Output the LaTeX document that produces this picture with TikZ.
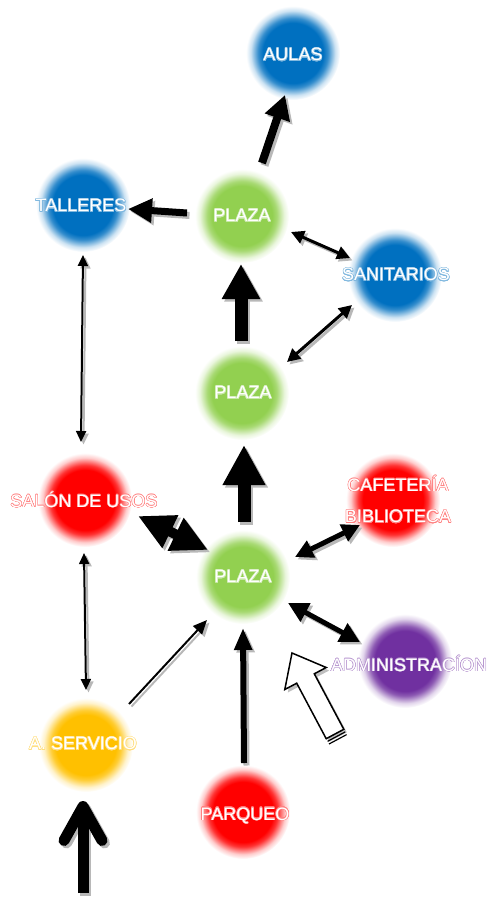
\documentclass[tikz,border=0pt]{standalone}
\usepackage{fontspec}
\setmainfont{Liberation Sans}
\usepackage[copies]{contour}
\usetikzlibrary{arrows.meta}
\definecolor{cblue}{HTML}{0070C0}
\definecolor{cgreen}{HTML}{92D050}
\definecolor{cred}{HTML}{FF0000}
\definecolor{cpurple}{HTML}{7030A0}
\definecolor{cyellow}{HTML}{FFC000}
\colorlet{cblueh}{cblue!80!white}\colorlet{cbluem}{cblue!50!white}\colorlet{cbluel}{cblue!20!white}
\colorlet{cgreenh}{cgreen!80!white}\colorlet{cgreenm}{cgreen!50!white}\colorlet{cgreenl}{cgreen!20!white}
\colorlet{credh}{cred!80!white}\colorlet{credm}{cred!50!white}\colorlet{credl}{cred!20!white}
\colorlet{cpurpleh}{cpurple!80!white}\colorlet{cpurplem}{cpurple!50!white}\colorlet{cpurplel}{cpurple!20!white}
\colorlet{cyellowh}{cyellow!80!white}\colorlet{cyellowm}{cyellow!50!white}\colorlet{cyellowl}{cyellow!20!white}
\newcommand\mkball[1]{\pgfdeclareradialshading{ball#1}{\pgfpoint{0bp}{0bp}}{color(0bp)=(c#1); color(16bp)=(c#1); color(18.5bp)=(c#1h); color(20.5bp)=(c#1m); color(22.5bp)=(c#1l); color(25bp)=(white); color(50bp)=(white)}}
\mkball{blue}\mkball{green}\mkball{red}\mkball{purple}\mkball{yellow}
\contourlength{0.5pt}
\tikzset{
  ball/.style={circle, inner sep=0pt, minimum size=94pt, shade, shading=ball#1, draw=none},
  lbl/.style={text=white, font=\fontsize{18}{20}\selectfont, inner sep=0pt, align=center},
  shadowline/.style={draw=black!28, fill=black!28, transform canvas={shift={(2.5pt,-2.5pt)}}},
}
\newcommand\conn[3][]{%
  \draw[shadowline,#1] #2 -- #3;
  \draw[#1] #2 -- #3;}
\begin{document}
\begin{tikzpicture}[x=1pt,y=-1pt]
\useasboundingbox (0,0) rectangle (492,901);
% balls
\node[ball=blue]   (aulas)    at (293,53)  {};
\node[ball=blue]   (talleres) at (83,205)  {};
\node[ball=green]  (plaza1)   at (242,216) {};
\node[ball=blue]   (sanit)    at (395,275) {};
\node[ball=green]  (plaza2)   at (242,393) {};
\node[ball=red]    (salon)    at (85,500)  {};
\node[ball=red]    (cafe)     at (393,500) {};
\node[ball=green]  (plaza3)   at (243,577) {};
\node[ball=purple] (admin)    at (405,661) {};
\node[ball=yellow] (servicio) at (86,745)  {};
\node[ball=red]    (parqueo)  at (243,812) {};
\coordinate (entry) at (83,893);
% hollow block arrow
\begin{scope}
\fill[black!25, transform canvas={shift={(3pt,-3pt)}}] (292,653) -- (326.2,667.5) -- (314.3,673.8) -- (343.8,729.3) -- (326.2,738.7) -- (296.7,683.2) -- (284.8,689.5) -- cycle;
\draw[line width=1.5pt, fill=white, line join=miter] (292,653) -- (326.2,667.5) -- (314.3,673.8) -- (343.8,729.3) -- (326.2,738.7) -- (296.7,683.2) -- (284.8,689.5) -- cycle;
\draw[line width=1.2pt] (345.2,731.9) -- (327.6,741.3);
\draw[line width=1.2pt] (346.6,734.6) -- (329,744);
\end{scope}
% connectors
\conn[line width=8pt, -{Triangle[length=24pt,width=25pt]}]{([shift={(20,-53)}]plaza1.center)}{([shift={(-8,42)}]aulas.center)}
\conn[line width=7pt, -{Triangle[length=24pt,width=23pt]}]{([shift={(-55,-3)}]plaza1.center)}{([shift={(45,4)}]talleres.center)}
\conn[line width=3pt, {Triangle[length=13pt,width=13pt]}-{Triangle[length=13pt,width=13pt]}]{([shift={(49,16)}]plaza1.center)}{([shift={(-45,-17)}]sanit.center)}
\conn[line width=13pt, -{Triangle[length=35pt,width=36pt]}]{([shift={(-1,-52)}]plaza2.center)}{([shift={(-1,48)}]plaza1.center)}
\conn[line width=3pt, {Triangle[length=13pt,width=13pt]}-{Triangle[length=13pt,width=13pt]}]{([shift={(45,-31)}]plaza2.center)}{([shift={(-43,30)}]sanit.center)}
\conn[line width=2pt, {Triangle[length=11pt,width=10pt]}-{Triangle[length=11pt,width=10pt]}]{([shift={(0,50)}]talleres.center)}{([shift={(-4,-58)}]salon.center)}
\conn[line width=13pt, -{Triangle[length=40pt,width=40pt]}]{([shift={(1,-55)}]plaza3.center)}{([shift={(2,52)}]plaza2.center)}
\conn[line width=10pt, {Triangle[length=36pt,width=34pt]}-{Triangle[length=36pt,width=34pt]}]{([shift={(53,16)}]salon.center)}{([shift={(-35,-27)}]plaza3.center)}
\conn[line width=5pt, {Triangle[length=18pt,width=18pt]}-{Triangle[length=18pt,width=18pt]}]{([shift={(52,-20)}]plaza3.center)}{([shift={(-33,25)}]cafe.center)}
\conn[line width=5pt, {Triangle[length=20pt,width=20pt]}-{Triangle[length=20pt,width=20pt]}]{([shift={(45,26)}]plaza3.center)}{([shift={(-45,-19)}]admin.center)}
\conn[line width=2pt, -{Triangle[length=14pt,width=12pt]}]{([shift={(43,-41)}]servicio.center)}{([shift={(-36,43)}]plaza3.center)}
\conn[line width=6pt, -{Triangle[length=22pt,width=17pt]}]{([shift={(1,-49)}]parqueo.center)}{([shift={(0,51)}]plaza3.center)}
\conn[line width=2pt, {Triangle[length=11pt,width=10pt]}-{Triangle[length=11pt,width=10pt]}]{([shift={(-1,53)}]salon.center)}{([shift={(0,-55)}]servicio.center)}
\conn[line width=11pt, -{Straight Barb[length=34pt,width=38pt,round]}]{(entry)}{([shift={(-3,56)}]servicio.center)}
% labels
\node[lbl] (aulasT)    at (293,55)  {\contour{cbluem}{AULAS}};
\node[lbl] (talleresT) at (81,206)  {\contour{cbluem}{TALLERES}};
\node[lbl] (plaza1T)   at (242,216) {\contour{cgreenm}{PLAZA}};
\node[lbl] (sanitT)    at (396,275) {\contour{cbluem}{SANITARIOS}};
\node[lbl] (plaza2T)   at (243,393) {\contour{cgreenm}{PLAZA}};
\node[lbl] (salonT)    at (84,500)  {\contour{credm}{SALÓN DE USOS}};
\node[lbl] (cafeT)     at (398,484) {\contour{credm}{CAFETERÍA}};
\node[lbl] (biblioT)   at (398,517) {\contour{credm}{BIBLIOTECA}};
\node[lbl] (plaza3T)   at (243,577) {\contour{cgreenm}{PLAZA}};
\node[lbl] (adminT)    at (409,664) {\contour{cpurplem}{ADMINISTRACÍON}};
\node[lbl] (servicioT) at (83,744)  {\contour{cyellowm}{A. SERVICIO}};
\node[lbl] (parqueoT)  at (245,816) {\contour{credm}{PARQUEO}};
\end{tikzpicture}
\end{document}
